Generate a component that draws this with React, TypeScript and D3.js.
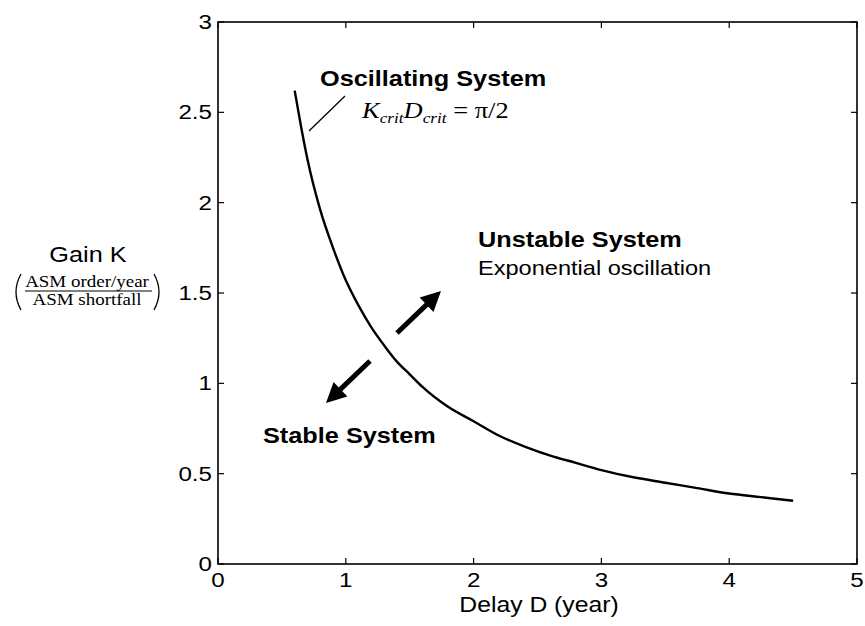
import React from "react";
import * as d3 from "d3";

// Data
const delayD = [0.6, 0.65, 0.7, 0.8, 0.9, 1.0, 1.1, 1.2, 1.3, 1.4, 1.5, 1.6, 1.8, 2.0, 2.2, 2.4, 2.6, 2.8, 3.0, 3.25, 3.5, 3.75, 4.0, 4.25, 4.5];
const gainK = [2.62, 2.42, 2.24, 1.96, 1.75, 1.57, 1.43, 1.31, 1.21, 1.12, 1.05, 0.98, 0.87, 0.79, 0.71, 0.65, 0.6, 0.56, 0.52, 0.48, 0.45, 0.42, 0.39, 0.37, 0.35];
const xTicks = [0, 1, 2, 3, 4, 5];
const yTicks = [0, 0.5, 1, 1.5, 2, 2.5, 3];
const yTickLabels = ["0", "0.5", "1", "1.5", "2", "2.5", "3"];

const W = 865;
const H = 626;
const SX = 1.15; // horizontal stretch of the scanned lettering
const SANS = "'Liberation Sans', Arial, Helvetica, sans-serif";
const SERIF = "'Liberation Serif', 'Times New Roman', serif";

function T({ x, y, children, size = 22, anchor = "start", weight = "normal", family = SANS, style = "normal" }: any) {
  return (
    <text
      transform={`translate(${x},${y}) scale(${SX},1)`}
      fontSize={size}
      textAnchor={anchor}
      fontWeight={weight}
      fontFamily={family}
      fontStyle={style}
      fill="#000"
    >
      {children}
    </text>
  );
}

function Arrow({ x1, y1, x2, y2 }: any) {
  const ang = Math.atan2(y2 - y1, x2 - x1);
  const hl = 20;
  const hw = 10;
  const bx = x2 - hl * Math.cos(ang);
  const by = y2 - hl * Math.sin(ang);
  const px = -Math.sin(ang);
  const py = Math.cos(ang);
  const pts = [
    [x2, y2],
    [bx + px * hw, by + py * hw],
    [bx - px * hw, by - py * hw],
  ];
  return (
    <g>
      <line x1={x1} y1={y1} x2={bx + 2 * Math.cos(ang)} y2={by + 2 * Math.sin(ang)} stroke="#000" strokeWidth={5} />
      <polygon points={pts.map((p) => p.join(",")).join(" ")} fill="#000" />
    </g>
  );
}

export default function App() {
  const x = d3.scaleLinear().domain([0, 5]).range([218, 857]);
  const y = d3.scaleLinear().domain([0, 3]).range([564, 22]);
  const pts: [number, number][] = delayD.map((d, i) => [d, gainK[i]]);
  const line = d3
    .line<[number, number]>()
    .x((d) => x(d[0]))
    .y((d) => y(d[1]))
    .curve(d3.curveMonotoneX);
  const tl = 6;

  return (
    <svg width={W} height={H} style={{ position: "absolute", left: 0, top: 0, background: "#fff" }}>
      <rect x={0} y={0} width={W} height={H} fill="#fff" />
      {/* ticks */}
      {xTicks.map((t) => (
        <g key={"xt" + t}>
          <line x1={x(t)} x2={x(t)} y1={y(0)} y2={y(0) - tl} stroke="#000" strokeWidth={1.2} />
          <line x1={x(t)} x2={x(t)} y1={y(3)} y2={y(3) + tl} stroke="#000" strokeWidth={1.2} />
          <T x={x(t)} y={587} anchor="middle" size={21}>{String(t)}</T>
        </g>
      ))}
      {yTicks.map((t, i) => (
        <g key={"yt" + t}>
          <line x1={x(0)} x2={x(0) + tl} y1={y(t)} y2={y(t)} stroke="#000" strokeWidth={1.2} />
          <line x1={x(5)} x2={x(5) - tl} y1={y(t)} y2={y(t)} stroke="#000" strokeWidth={1.2} />
          <T x={212} y={y(t) + 7} anchor="end" size={21}>{yTickLabels[i]}</T>
        </g>
      ))}
      {/* box */}
      <rect x={x(0)} y={y(3)} width={x(5) - x(0)} height={y(0) - y(3)} fill="none" stroke="#000" strokeWidth={1.6} />

      {/* curve */}
      <path d={line(pts) || ""} fill="none" stroke="#000" strokeWidth={2.4} />

      {/* annotations */}
      <T x={320} y={86} weight="bold">Oscillating System</T>
      <line x1={345} y1={96} x2={309} y2={131} stroke="#000" strokeWidth={1.3} />
      <text transform={`translate(362,118) scale(${SX},1)`} fontFamily={SERIF} fontSize={23} fill="#000">
        <tspan fontStyle="italic">K</tspan>
        <tspan fontStyle="italic" fontSize={15} dy={5}>crit</tspan>
        <tspan fontStyle="italic" dy={-5}>D</tspan>
        <tspan fontStyle="italic" fontSize={15} dy={5}>crit</tspan>
        <tspan dy={-5}> = π/2</tspan>
      </text>

      <T x={478} y={247} weight="bold">Unstable System</T>
      <T x={478} y={275} size={20.5}>Exponential oscillation</T>
      <T x={263} y={443} weight="bold">Stable System</T>

      <Arrow x1={397} y1={333} x2={441} y2={291} />
      <Arrow x1={370} y1={361} x2={326} y2={403} />

      {/* axis labels */}
      <T x={539} y={612} anchor="middle" size={21.5}>Delay D (year)</T>
      <T x={88} y={262} anchor="middle">Gain K</T>
      <T x={87} y={287} anchor="middle" family={SERIF} size={16.5}>ASM order/year</T>
      <line x1={25} x2={152} y1={291} y2={291} stroke="#000" strokeWidth={1} />
      <T x={87} y={305} anchor="middle" family={SERIF} size={16.5}>ASM shortfall</T>
      <path d="M21,274 Q11,292 21,310" fill="none" stroke="#000" strokeWidth={1.3} />
      <path d="M154,274 Q164,292 154,310" fill="none" stroke="#000" strokeWidth={1.3} />
    </svg>
  );
}
